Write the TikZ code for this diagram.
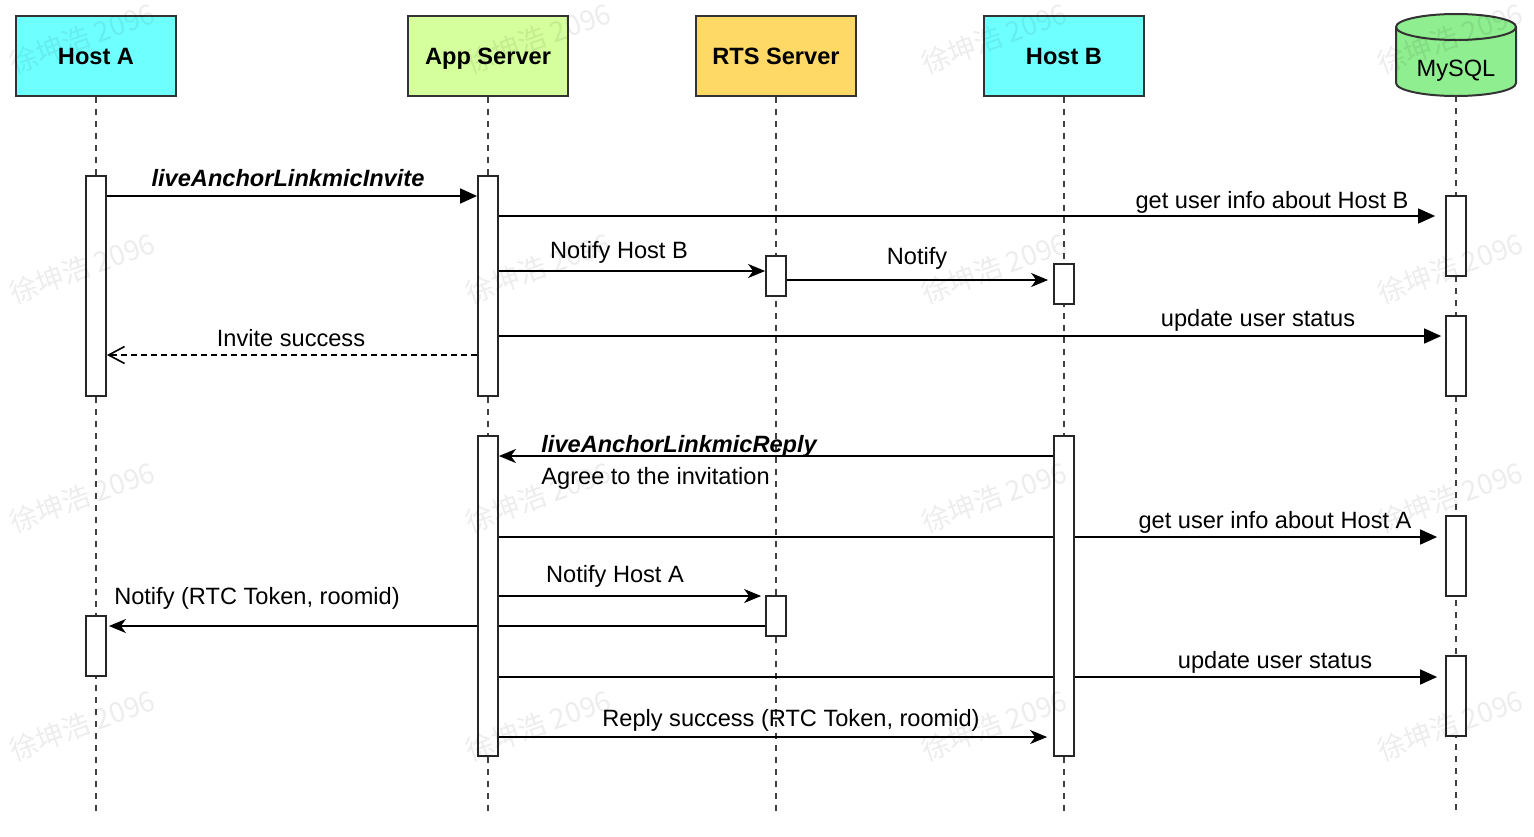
\documentclass[tikz,border=0pt]{standalone}
\usepackage{fontspec}
\setmainfont{Liberation Sans}
\newfontfamily\cjkfont{Noto Sans CJK SC}
\usetikzlibrary{arrows.meta,calc}
\definecolor{cyanA}{RGB}{110,255,255}
\definecolor{appgreen}{RGB}{212,255,156}
\definecolor{rtsyellow}{RGB}{255,217,102}
\definecolor{dbgreen}{RGB}{143,238,143}
\begin{document}
\begin{tikzpicture}[x=0.5pt,y=-0.5pt,
  actor/.style={draw=black!80, line width=1pt, minimum width=80pt, minimum height=40pt, inner sep=0pt, text height=8.5pt, text depth=0pt, font=\bfseries\fontsize{11.8}{14}\selectfont},
  bar/.style={draw=black!85, fill=white, line width=0.9pt, minimum width=10pt, inner sep=0pt},
  life/.style={draw=black!75, line width=0.8pt, dash pattern=on 3pt off 3pt},
  msg/.style={line width=0.8pt, -{Triangle[length=8.5pt,width=7.5pt]}},
  msgc/.style={line width=0.8pt, -{Stealth[length=8.5pt,width=7pt,inset=2.5pt]}},
  reply/.style={line width=0.8pt, dash pattern=on 3pt off 2pt, -{Straight Barb[length=8pt,width=8.5pt]}},
  lbl/.style={font=\fontsize{11.8}{14}\selectfont, inner sep=0pt, anchor=base},
  blbl/.style={font=\bfseries\itshape\fontsize{11.8}{14}\selectfont, inner sep=0pt, anchor=base},
  wm/.style={font=\cjkfont\fontsize{14}{16}\selectfont, text=black, text opacity=0.07, rotate=20}
]
\useasboundingbox (0,0) rectangle (1534,836);

% actors
\node[actor, fill=cyanA] (hostA) at (96,56) {Host A};
\node[actor, fill=appgreen] (app) at (488,56) {App Server};
\node[actor, fill=rtsyellow] (rts) at (776,56) {RTS Server};
\node[actor, fill=cyanA] (hostB) at (1064,56) {Host B};
\node[inner sep=0pt, minimum width=60pt, minimum height=41pt] (mysql) at (1456,55) {};
\path[fill=dbgreen, draw=black!80, line width=1pt]
  (1396,27) -- (1396,83) arc[start angle=180,end angle=0,x radius=60,y radius=13]
  -- (1516,27) arc[start angle=0,end angle=-180,x radius=60,y radius=13] -- cycle;
\draw[black!80, line width=1pt] (1396,27) arc[start angle=180,end angle=0,x radius=60,y radius=13];
\node[lbl] (mysqltxt) at (1456,76) {MySQL};

% lifelines
\coordinate (bottom) at (0,812);
\foreach \n in {hostA,app,rts,hostB,mysql}{
  \draw[life] (\n.south) -- (\n.south |- bottom);
}

% activation bars
\node[bar, minimum height=110pt] (a1) at (96,286) {};
\node[bar, minimum height=30pt]  (a2) at (96,646) {};
\node[bar, minimum height=110pt] (s1) at (488,286) {};
\node[bar, minimum height=160pt] (s2) at (488,596) {};
\node[bar, minimum height=20pt]  (r1) at (776,276) {};
\node[bar, minimum height=20pt]  (r2) at (776,616) {};
\node[bar, minimum height=20pt]  (b1) at (1064,284) {};
\node[bar, minimum height=160pt] (b2) at (1064,596) {};
\node[bar, minimum height=40pt]  (d1) at (1456,236) {};
\node[bar, minimum height=40pt]  (d2) at (1456,356) {};
\node[bar, minimum height=40pt]  (d3) at (1456,556) {};
\node[bar, minimum height=40pt]  (d4) at (1456,696) {};

% message levels
\coordinate (m1) at (0,196);
\coordinate (m2) at (0,216);
\coordinate (m3) at (0,271);
\coordinate (m4) at (0,280);
\coordinate (m5) at (0,336);
\coordinate (m6) at (0,355);
\coordinate (m7) at (0,456);
\coordinate (m8) at (0,537);
\coordinate (m9) at (0,596);
\coordinate (m10) at (0,626);
\coordinate (m11) at (0,677);
\coordinate (m12) at (0,737);

% messages (drawn under the bars)
\draw[msg] (a1.east |- m1) -- (s1.west |- m1);
\draw[msg, shorten >=5pt] (s1.east |- m2) -- (d1.west |- m2);
\draw[msgc] (s1.east |- m3) -- (r1.west |- m3);
\draw[msgc, shorten >=2.5pt] (r1.east |- m4) -- (b1.west |- m4);
\draw[msg, shorten >=2pt] (s1.east |- m5) -- (d2.west |- m5);
\draw[reply] (s1.west |- m6) -- (a1.east |- m6);
\draw[msgc] (b2.west |- m7) -- (s2.east |- m7);
\draw[msg, shorten >=4pt] (s2.east |- m8) -- (d3.west |- m8);
\draw[msgc, shorten >=2pt] (s2.east |- m9) -- (r2.west |- m9);
\draw[msgc, shorten >=1pt] (r2.west |- m10) -- (a2.east |- m10);
\draw[msg, shorten >=4pt] (s2.east |- m11) -- (d4.west |- m11);
\draw[msgc, shorten >=3pt] (s2.east |- m12) -- (b2.west |- m12);

% redraw bars on top of the connectors
\foreach \b/\x/\y/\h in {a1/96/286/110, a2/96/646/30, s1/488/286/110, s2/488/596/160, r1/776/276/20, r2/776/616/20, b1/1064/284/20, b2/1064/596/160, d1/1456/236/40, d2/1456/356/40, d3/1456/556/40, d4/1456/696/40}{
  \node[bar, minimum height=\h pt] at (\x,\y) {};
}

% labels
\node[blbl] (l1) at (288,186) {liveAnchorLinkmicInvite};
\node[lbl] (l2) at (1272,208) {get user info about Host B};
\node[lbl] (l3) at (619,258) {Notify Host B};
\node[lbl] (l4) at (917,264) {Notify};
\node[lbl] (l5) at (1258,326) {update user status};
\node[lbl] (l6) at (291,346) {Invite success};
\node[blbl, anchor=base west] (l7) at (541,452) {liveAnchorLinkmicReply};
\node[lbl, anchor=base west] (l7b) at (541,484) {Agree to the invitation};
\node[lbl] (l8) at (1275,528) {get user info about Host A};
\node[lbl] (l9) at (615,582) {Notify Host A};
\node[lbl] (l10) at (257,604) {Notify (RTC Token, roomid)};
\node[lbl] (l11) at (1275,668) {update user status};
\node[lbl] (l12) at (791,726) {Reply success (RTC Token, roomid)};

% watermarks (faint, over everything)
\foreach \wx in {82,538,994,1450}{
  \foreach \wy in {38,268,497,725}{
    \node[wm] at (\wx,\wy) {徐坤浩 2096};
  }
}
\end{tikzpicture}
\end{document}
